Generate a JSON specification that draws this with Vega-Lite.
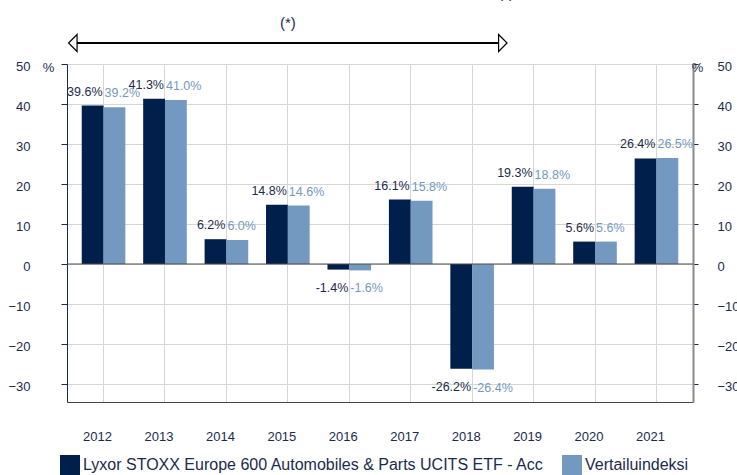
{
  "$schema": "https://vega.github.io/schema/vega-lite/v6.json",
  "width": 626,
  "height": 338,
  "autosize": "none",
  "padding": {"left": 67, "top": 64, "right": 44, "bottom": 73},
  "background": "white",
  "config": {"font": "Liberation Sans", "view": {"stroke": null}},
  "data": {"values": [
    {"year": "2012", "serie": "Lyxor STOXX Europe 600 Automobiles & Parts UCITS ETF - Acc", "value": 39.6, "label": "39.6%"},
    {"year": "2012", "serie": "Vertailuindeksi", "value": 39.2, "label": "39.2%"},
    {"year": "2013", "serie": "Lyxor STOXX Europe 600 Automobiles & Parts UCITS ETF - Acc", "value": 41.3, "label": "41.3%"},
    {"year": "2013", "serie": "Vertailuindeksi", "value": 41.0, "label": "41.0%"},
    {"year": "2014", "serie": "Lyxor STOXX Europe 600 Automobiles & Parts UCITS ETF - Acc", "value": 6.2, "label": "6.2%"},
    {"year": "2014", "serie": "Vertailuindeksi", "value": 6.0, "label": "6.0%"},
    {"year": "2015", "serie": "Lyxor STOXX Europe 600 Automobiles & Parts UCITS ETF - Acc", "value": 14.8, "label": "14.8%"},
    {"year": "2015", "serie": "Vertailuindeksi", "value": 14.6, "label": "14.6%"},
    {"year": "2016", "serie": "Lyxor STOXX Europe 600 Automobiles & Parts UCITS ETF - Acc", "value": -1.4, "label": "-1.4%"},
    {"year": "2016", "serie": "Vertailuindeksi", "value": -1.6, "label": "-1.6%"},
    {"year": "2017", "serie": "Lyxor STOXX Europe 600 Automobiles & Parts UCITS ETF - Acc", "value": 16.1, "label": "16.1%"},
    {"year": "2017", "serie": "Vertailuindeksi", "value": 15.8, "label": "15.8%"},
    {"year": "2018", "serie": "Lyxor STOXX Europe 600 Automobiles & Parts UCITS ETF - Acc", "value": -26.2, "label": "-26.2%"},
    {"year": "2018", "serie": "Vertailuindeksi", "value": -26.4, "label": "-26.4%"},
    {"year": "2019", "serie": "Lyxor STOXX Europe 600 Automobiles & Parts UCITS ETF - Acc", "value": 19.3, "label": "19.3%"},
    {"year": "2019", "serie": "Vertailuindeksi", "value": 18.8, "label": "18.8%"},
    {"year": "2020", "serie": "Lyxor STOXX Europe 600 Automobiles & Parts UCITS ETF - Acc", "value": 5.6, "label": "5.6%"},
    {"year": "2020", "serie": "Vertailuindeksi", "value": 5.6, "label": "5.6%"},
    {"year": "2021", "serie": "Lyxor STOXX Europe 600 Automobiles & Parts UCITS ETF - Acc", "value": 26.4, "label": "26.4%"},
    {"year": "2021", "serie": "Vertailuindeksi", "value": 26.5, "label": "26.5%"}
  ]},
  "resolve": {"axis": {"y": "independent"}},
  "layer": [
    {
      "mark": {"type": "bar"},
      "encoding": {
        "x": {"field": "year", "type": "nominal",
          "scale": {"domain": ["2012", "2013", "2014", "2015", "2016", "2017", "2018", "2019", "2020", "2021"], "paddingInner": 0.29, "paddingOuter": 0.24},
          "axis": {"orient": "bottom", "title": null, "ticks": false, "labelPadding": 28, "labelOffset": -6, "bandPosition": 0.5, "grid": true, "gridColor": "#d6d6d6", "domainColor": "#444444", "labelColor": "#1b2b4d", "labelFontSize": 13, "labelAngle": 0}},
        "xOffset": {"field": "serie", "type": "nominal", "scale": {"domain": ["Lyxor STOXX Europe 600 Automobiles & Parts UCITS ETF - Acc", "Vertailuindeksi"]}},
        "y": {"field": "value", "type": "quantitative",
          "scale": {"domain": [-34.5, 50], "nice": false, "zero": false},
          "axis": {"orient": "left", "values": [-30, -20, -10, 0, 10, 20, 30, 40, 50], "domainColor": "#1b2b4d", "tickColor": "#1b2b4d", "tickSize": 6, "labelPadding": 31, "labelOffset": 2, "labelColor": "#1b2b4d", "labelFontSize": 13, "grid": true, "gridColor": "#d6d6d6", "title": "%", "titleAngle": 0, "titleX": -19, "titleY": 3, "titleAlign": "center", "titleBaseline": "middle", "titleFontWeight": "normal", "titleFontSize": 13, "titleColor": "#1b2b4d"}},
        "color": {"field": "serie", "type": "nominal",
          "scale": {"domain": ["Lyxor STOXX Europe 600 Automobiles & Parts UCITS ETF - Acc", "Vertailuindeksi"], "range": ["#001f4b", "#7399c1"]},
          "legend": {"orient": "none", "legendX": -7, "legendY": 391, "direction": "horizontal", "title": null, "symbolType": "square", "symbolSize": 400, "symbolStrokeWidth": 0, "symbolOpacity": 1, "labelFontSize": 16, "labelColor": "#1b2b4d", "labelLimit": 0, "columnPadding": 17, "labelOffset": 3}}
      }
    },
    {
      "transform": [{"filter": "datum.serie !== 'Vertailuindeksi' && datum.value >= 0"}],
      "mark": {"type": "text", "align": "right", "baseline": "alphabetic", "dx": -1, "dy": -10, "fontSize": 12.5, "color": "#1b2b4d"},
      "encoding": {
        "x": {"field": "year", "type": "nominal"},
        "y": {"field": "value", "type": "quantitative", "scale": {"domain": [-34.5, 50], "nice": false, "zero": false}, "axis": null},
        "text": {"field": "label"}
      }
    },
    {
      "transform": [{"filter": "datum.serie === 'Vertailuindeksi' && datum.value >= 0"}],
      "mark": {"type": "text", "align": "left", "baseline": "alphabetic", "dx": 1, "dy": -10, "fontSize": 12.5, "color": "#7399c1"},
      "encoding": {
        "x": {"field": "year", "type": "nominal"},
        "y": {"field": "value", "type": "quantitative", "scale": {"domain": [-34.5, 50], "nice": false, "zero": false}, "axis": null},
        "text": {"field": "label"}
      }
    },
    {
      "transform": [{"filter": "datum.serie !== 'Vertailuindeksi' && datum.value < 0"}],
      "mark": {"type": "text", "align": "right", "baseline": "top", "dx": -1, "dy": 12, "fontSize": 12.5, "color": "#1b2b4d"},
      "encoding": {
        "x": {"field": "year", "type": "nominal"},
        "y": {"field": "value", "type": "quantitative", "scale": {"domain": [-34.5, 50], "nice": false, "zero": false}, "axis": null},
        "text": {"field": "label"}
      }
    },
    {
      "transform": [{"filter": "datum.serie === 'Vertailuindeksi' && datum.value < 0"}],
      "mark": {"type": "text", "align": "left", "baseline": "top", "dx": 1, "dy": 12, "fontSize": 12.5, "color": "#7399c1"},
      "encoding": {
        "x": {"field": "year", "type": "nominal"},
        "y": {"field": "value", "type": "quantitative", "scale": {"domain": [-34.5, 50], "nice": false, "zero": false}, "axis": null},
        "text": {"field": "label"}
      }
    },
    {
      "data": {"values": [{"zero": 0}]},
      "mark": {"type": "rule", "color": "#4d4d4d", "strokeWidth": 1},
      "encoding": {
        "y": {"field": "zero", "type": "quantitative",
          "scale": {"domain": [-34.5, 50], "nice": false, "zero": false},
          "axis": {"orient": "right", "values": [-30, -20, -10, 0, 10, 20, 30, 40, 50], "domainColor": "#8a8a8a", "domainWidth": 2, "tickColor": "#1b2b4d", "tickSize": 5, "labelPadding": 19, "labelOffset": 2, "labelColor": "#1b2b4d", "labelFontSize": 13, "grid": false, "title": "%", "titleAngle": 0, "titleX": 4, "titleY": 3, "titleAlign": "center", "titleBaseline": "middle", "titleFontWeight": "normal", "titleFontSize": 13, "titleColor": "#1b2b4d"}}
      }
    },
    {
      "data": {"values": [{"yr": "2012", "level": 55.25}, {"yr": "2019", "level": 55.25}]},
      "mark": {"type": "line", "color": "black", "strokeWidth": 2, "clip": false},
      "encoding": {
        "x": {"field": "yr", "type": "nominal", "bandPosition": -0.12},
        "y": {"field": "level", "type": "quantitative", "scale": {"domain": [-34.5, 50], "nice": false, "zero": false}, "axis": null}
      }
    },
    {
      "data": {"values": [{"yr": "2012", "level": 55.25, "dir": "left"}, {"yr": "2019", "level": 55.25, "dir": "right"}]},
      "mark": {"type": "point", "filled": true, "fill": "white", "stroke": "black", "strokeWidth": 1.2, "size": 289, "opacity": 1},
      "encoding": {
        "x": {"field": "yr", "type": "nominal", "bandPosition": -0.205},
        "y": {"field": "level", "type": "quantitative", "scale": {"domain": [-34.5, 50], "nice": false, "zero": false}, "axis": null},
        "shape": {"field": "dir", "type": "nominal", "scale": {"domain": ["left", "right"], "range": ["M0.5,-1L-0.5,0L0.5,1Z", "M-0.5,-1L0.5,0L-0.5,1Z"]}, "legend": null}
      }
    },
    {
      "data": {"values": [{"yr": "2015", "level": 60.2, "note": "(*)"}]},
      "mark": {"type": "text", "fontSize": 15, "color": "#1b2b4d", "baseline": "middle", "align": "center"},
      "encoding": {
        "x": {"field": "yr", "type": "nominal", "bandPosition": 0.5},
        "y": {"field": "level", "type": "quantitative", "scale": {"domain": [-34.5, 50], "nice": false, "zero": false}, "axis": null},
        "text": {"field": "note"}
      }
    },
    {
      "data": {"values": [{"yr": "2019", "level": 67.75, "note": "(*)"}]},
      "mark": {"type": "text", "fontSize": 15, "color": "#1b2b4d", "baseline": "middle", "align": "center"},
      "encoding": {
        "x": {"field": "yr", "type": "nominal", "bandPosition": -0.13},
        "y": {"field": "level", "type": "quantitative", "scale": {"domain": [-34.5, 50], "nice": false, "zero": false}, "axis": null},
        "text": {"field": "note"}
      }
    }
  ]
}
